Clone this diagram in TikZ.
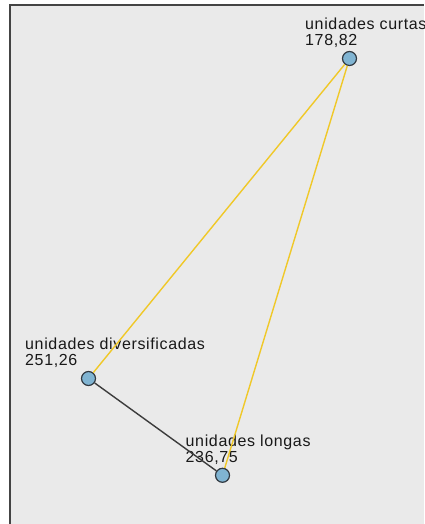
\documentclass[tikz,border=0pt]{standalone}
\usepackage{fontspec}
\setmainfont{Liberation Sans}
\usetikzlibrary{positioning}
\definecolor{panelgray}{RGB}{234,234,234}
\definecolor{framegray}{RGB}{68,68,68}
\definecolor{ptblue}{RGB}{128,180,210}
\definecolor{ptedge}{RGB}{50,58,66}
\definecolor{linkyellow}{RGB}{240,200,40}
\definecolor{linkgray}{RGB}{60,60,60}
\begin{document}
\begin{tikzpicture}[x=1pt, y=-1pt]
  \tikzset{
    pt/.style={fill=ptblue, draw=ptedge, circle, minimum size=14pt, inner sep=0pt, line width=1.2pt},
    lbl/.style={anchor=base west, inner sep=0pt, text=black!90,
      font=\fontsize{16}{16}\selectfont\addfontfeatures{LetterSpace=4}},
    weak/.style={linkyellow, line width=1.4pt},
    strong/.style={linkgray, line width=1.4pt},
  }

  \useasboundingbox (0,0) rectangle (424,524);
  \fill[white] (0,0) rectangle (424,524);
  \fill[panelgray] (10,5) rectangle (424,524);
  \draw[framegray, line width=2pt] (10,524) -- (10,5) -- (424,5);

  % points and their labels
  \foreach \name/\x/\y/\dx/\txt/\val in {
    curtas/349.5/58.5/-44.5/unidades curtas/{178,82},
    diversificadas/88.5/378.5/-63.5/unidades diversificadas/{251,26},
    longas/222.5/475.3/-37/unidades longas/{236,75}
  }{
    \node[pt] (\name) at (\x,\y) {};
    \node[lbl] (\name-txt) at ([xshift=\dx pt, yshift=29.3pt]\name.center) {\txt};
    \node[lbl] (\name-val) at ([xshift=\dx pt, yshift=13.3pt]\name.center) {\val};
  }

  \draw[weak] (curtas) -- (diversificadas);
  \draw[weak] (curtas) -- (longas);
  \draw[strong] (diversificadas) -- (longas);
\end{tikzpicture}
\end{document}
